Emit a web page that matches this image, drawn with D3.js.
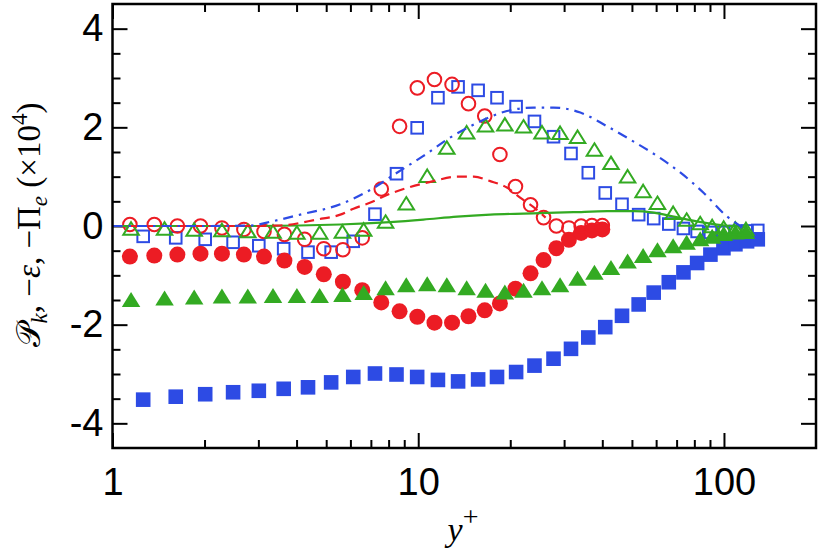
<!DOCTYPE html>
<html><head><meta charset="utf-8">
<script src="https://cdn.jsdelivr.net/npm/d3@7"></script>
<style>body{margin:0;background:#fff}</style>
</head><body><svg id="c" width="820" height="552"></svg>
<script>
// ---- data ----
const redX = [1.14,1.37,1.63,1.94,2.28,2.69,3.13,3.65,4.25,4.91,5.67,6.56,7.57,8.69,9.93,11.3,12.9,14.6,16.5,18.5,20.8,23.3,25.7,28.3,31.1,34.1,37.0,40.0];
const redOpen = [0.03,0.03,0.0,0.0,-0.04,-0.07,-0.11,-0.17,-0.27,-0.46,-0.48,-0.24,0.75,2.02,2.80,2.97,2.87,2.48,2.23,1.45,0.80,0.43,0.17,0.0,-0.04,0.0,0.01,0.01];
const redFilled = [-0.62,-0.60,-0.58,-0.56,-0.56,-0.58,-0.62,-0.70,-0.83,-0.98,-1.13,-1.30,-1.55,-1.73,-1.84,-1.96,-1.96,-1.83,-1.71,-1.57,-1.27,-0.96,-0.69,-0.45,-0.28,-0.14,-0.09,-0.07];

const blueX = [1.26,1.61,2.01,2.48,3.01,3.63,4.36,5.19,6.13,7.22,8.49,9.92,11.6,13.5,15.7,18.1,20.9,24.0,27.7,31.6,36.0,40.9,46.4,52.6,58.9,66.0,73.7,81.7,90.3,99.6,109,119,129];
const blueOpen = [-0.21,-0.24,-0.27,-0.33,-0.40,-0.46,-0.53,-0.53,-0.31,0.24,1.06,1.99,2.60,2.82,2.75,2.60,2.42,2.12,1.81,1.47,1.08,0.67,0.44,0.23,0.15,0.04,-0.05,-0.11,-0.13,-0.13,-0.11,-0.10,-0.09];
const blueFilled = [-3.52,-3.46,-3.41,-3.37,-3.34,-3.30,-3.27,-3.17,-3.06,-2.99,-3.01,-3.06,-3.12,-3.15,-3.11,-3.06,-2.96,-2.83,-2.69,-2.49,-2.26,-2.05,-1.82,-1.59,-1.35,-1.14,-0.94,-0.75,-0.58,-0.45,-0.37,-0.31,-0.27];

const greenX = [1.15,1.48,1.85,2.28,2.77,3.35,4.01,4.76,5.65,6.63,7.82,9.14,10.7,12.4,14.4,16.6,19.2,22.1,25.4,29.1,33.2,37.7,42.7,48.4,54.4,60.6,68.2,75.5,83.6,91.5,99.8,109,118];
const greenOpen = [-0.05,-0.05,-0.07,-0.08,-0.10,-0.11,-0.13,-0.13,-0.11,-0.07,0.09,0.46,1.02,1.59,1.90,2.04,2.06,2.02,1.90,1.89,1.81,1.55,1.28,1.01,0.71,0.47,0.27,0.13,0.06,0.00,-0.03,-0.05,-0.06];
const greenFilled = [-1.49,-1.46,-1.44,-1.42,-1.42,-1.41,-1.41,-1.41,-1.39,-1.35,-1.25,-1.19,-1.17,-1.19,-1.25,-1.30,-1.34,-1.30,-1.25,-1.19,-1.06,-0.94,-0.84,-0.71,-0.60,-0.48,-0.40,-0.33,-0.26,-0.21,-0.15,-0.12,-0.11];

const redLineX = [1,2.82,3.53,4.66,5.56,6.14,7.14,7.70,9.18,11.2,13.4,15.2,17.2,19.5,21.6,24.2,26.1];
const redLineY = [0,0,0.01,0.13,0.23,0.35,0.50,0.60,0.77,0.91,1.00,1.00,0.91,0.78,0.57,0.35,0.17];
const blueLineX = [1,2,2.82,3.36,4.11,5.56,7.14,8.52,10.4,12.7,15.6,19.5,23.9,27.7,33.9,41.5,49.4,60.4,72.1,85.9,102,113,118];
const blueLineY = [0,0,0.01,0.10,0.23,0.44,0.77,1.08,1.42,1.79,2.09,2.33,2.40,2.40,2.30,2.02,1.75,1.42,1.08,0.67,0.20,0.0,-0.08];
const greenLineX = [1,3,5.56,8.10,10.4,13.4,17.2,25.1,32.2,41.5,50.7,58.9,68.5,77.7,88.1,101,117];
const greenLineY = [0,0,0.03,0.08,0.13,0.19,0.23,0.26,0.28,0.30,0.30,0.27,0.19,0.12,0.06,0.01,-0.02];

const xMajorTicks = [1,10,100];
const xTickLabels = ["1","10","100"];
const xMinorTicks = [2,3,4,5,6,7,8,9,20,30,40,50,60,70,80,90];
const yMajorTicks = [-4,-2,0,2,4];
const yTickLabels = ["-4","-2","0","2","4"];
const yMinorTicks = [-3.5,-3,-2.5,-1.5,-1,-0.5,0.5,1,1.5,2.5,3,3.5];

// ---- chart ----
const RED = "#ec1c24", BLUE = "#2d4be4", GREEN = "#33aa22";
const svg = d3.select("#c");
const L = 112.5, R = 816, T = 4, B = 448;
const x = d3.scaleLog().domain([1,200]).range([L,R]);
const y = d3.scaleLinear().domain([-4.5,4.5]).range([B,T]);
const FONT = "'Liberation Sans', Arial, Helvetica, sans-serif";

function style(g, labels){
  g.select(".domain").remove();
  g.selectAll(".tick line").attr("stroke","#000").attr("stroke-width",2);
  g.attr("font-size",38).attr("font-family",FONT);
  g.selectAll(".tick text").attr("fill","#000");
  if(!labels) g.selectAll(".tick text").remove();
}
svg.append("g").attr("transform",`translate(0,${B})`)
  .call(d3.axisBottom(x).tickValues(xMajorTicks).tickSize(-15).tickPadding(20).tickFormat((d,i)=>xTickLabels[i]))
  .call(g=>style(g,true));
svg.append("g").attr("transform",`translate(0,${B})`)
  .call(d3.axisBottom(x).tickValues(xMinorTicks).tickSize(-8)).call(g=>style(g,false));
svg.append("g").attr("transform",`translate(0,${T})`)
  .call(d3.axisTop(x).tickValues(xMajorTicks).tickSize(-15)).call(g=>style(g,false));
svg.append("g").attr("transform",`translate(0,${T})`)
  .call(d3.axisTop(x).tickValues(xMinorTicks).tickSize(-8)).call(g=>style(g,false));
svg.append("g").attr("transform",`translate(${L},0)`)
  .call(d3.axisLeft(y).tickValues(yMajorTicks).tickSize(-15).tickPadding(9).tickFormat((d,i)=>yTickLabels[i]))
  .call(g=>style(g,true));
svg.append("g").attr("transform",`translate(${L},0)`)
  .call(d3.axisLeft(y).tickValues(yMinorTicks).tickSize(-8)).call(g=>style(g,false));
svg.append("g").attr("transform",`translate(${R},0)`)
  .call(d3.axisRight(y).tickValues(yMajorTicks).tickSize(-15)).call(g=>style(g,false));
svg.append("g").attr("transform",`translate(${R},0)`)
  .call(d3.axisRight(y).tickValues(yMinorTicks).tickSize(-8)).call(g=>style(g,false));

const plot = svg.append("g");
function zip(xs, ys){ return xs.map((v,i)=>[v, ys[i]]); }

function tri(cx, cy, w, h){
  return `M${cx},${cy-h/2}L${cx+w/2},${cy+h/2}L${cx-w/2},${cy+h/2}Z`;
}
// blue squares
plot.selectAll(".bf").data(zip(blueX, blueFilled)).join("rect")
  .attr("x",d=>x(d[0])-7.3).attr("y",d=>y(d[1])-7.3).attr("width",14.6).attr("height",14.6).attr("fill",BLUE);
plot.selectAll(".bo").data(zip(blueX, blueOpen)).join("rect")
  .attr("x",d=>x(d[0])-5.8).attr("y",d=>y(d[1])-5.8).attr("width",11.6).attr("height",11.6)
  .attr("fill","none").attr("stroke",BLUE).attr("stroke-width",2);
// red circles
plot.selectAll(".rf").data(zip(redX, redFilled)).join("circle")
  .attr("cx",d=>x(d[0])).attr("cy",d=>y(d[1])).attr("r",8).attr("fill",RED);
plot.selectAll(".ro").data(zip(redX, redOpen)).join("circle")
  .attr("cx",d=>x(d[0])).attr("cy",d=>y(d[1])).attr("r",6.8).attr("fill","none").attr("stroke",RED).attr("stroke-width",2);
// green triangles
plot.selectAll(".gf").data(zip(greenX, greenFilled)).join("path")
  .attr("d",d=>tri(x(d[0]), y(d[1]), 18.5, 15)).attr("fill",GREEN);
plot.selectAll(".go").data(zip(greenX, greenOpen)).join("path")
  .attr("d",d=>tri(x(d[0]), y(d[1]), 15.5, 12.5)).attr("fill","none").attr("stroke",GREEN).attr("stroke-width",2).attr("stroke-linejoin","miter");

// lines
const line = d3.line().x(d=>x(d[0])).y(d=>y(d[1])).curve(d3.curveMonotoneX);
plot.append("path").datum(zip(greenLineX, greenLineY)).attr("d",line)
  .attr("fill","none").attr("stroke",GREEN).attr("stroke-width",2.2);
plot.append("path").datum(zip(redLineX, redLineY)).attr("d",line)
  .attr("fill","none").attr("stroke",RED).attr("stroke-width",2.2).attr("stroke-dasharray","10,6");
plot.append("path").datum(zip(blueLineX, blueLineY)).attr("d",line)
  .attr("fill","none").attr("stroke",BLUE).attr("stroke-width",2.2).attr("stroke-dasharray","10,6,2.5,6");

// frame
svg.append("rect").attr("x",L).attr("y",T).attr("width",R-L).attr("height",B-T)
  .attr("fill","none").attr("stroke","#000").attr("stroke-width",2.5);

// axis titles
const SERIF = "'Liberation Serif', 'DejaVu Serif', 'Times New Roman', serif";
const xt = svg.append("text").attr("x",463).attr("y",541).attr("text-anchor","middle")
  .attr("font-family",SERIF).attr("font-size",34).attr("fill","#000");
xt.append("tspan").attr("font-style","italic").text("y");
xt.append("tspan").attr("dy",-15).attr("font-size",28).text("+");

const yt = svg.append("text").attr("transform","translate(40,225) rotate(-90)").attr("text-anchor","middle")
  .attr("font-family",SERIF).attr("font-size",33).attr("fill","#000");
yt.append("tspan").text("𝒫");
yt.append("tspan").attr("dy",7).attr("font-size",23).attr("font-style","italic").text("k");
yt.append("tspan").attr("dy",-7).text(", −");
yt.append("tspan").attr("font-style","italic").text("ε");
yt.append("tspan").text(", −Π");
yt.append("tspan").attr("dy",7).attr("font-size",23).attr("font-style","italic").text("e");
yt.append("tspan").attr("dy",-7).text(" (×10");
yt.append("tspan").attr("dy",-13).attr("font-size",23).text("4");
yt.append("tspan").attr("dy",13).text(")");
</script></body></html>
